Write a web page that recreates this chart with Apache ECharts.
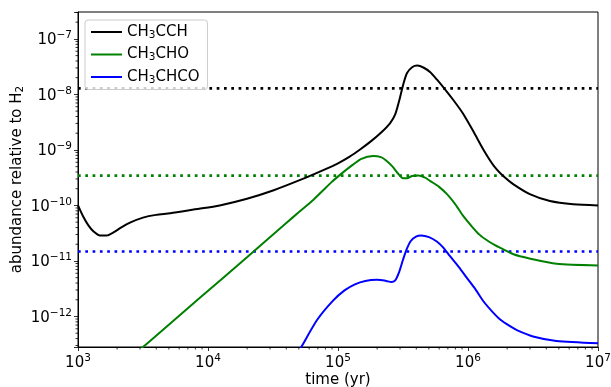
<!DOCTYPE html>
<html>
<head>
<meta charset="utf-8">
<script src="https://cdn.jsdelivr.net/npm/echarts@6/dist/echarts.min.js"></script>
<style>
  html, body { margin: 0; padding: 0; background: #fff; }
  #chart { width: 611px; height: 387px; }
</style>
</head>
<body>
<div id="chart"></div>
<script>
// values (time in yr, abundance relative to H2)
var timeCCH = [1000, 1096, 1202, 1318, 1479, 1660, 1862, 2138, 2512, 3162, 3981, 5129, 7943, 12300, 19950, 31620, 50120, 79430, 100000, 123000, 147900, 177800, 213800, 251200, 275400, 295100, 316200, 338800, 371500, 407400, 457100, 512900, 575400, 660700, 776200, 912000, 1096000, 1318000, 1585000, 1905000, 2239000, 3020000, 4266000, 6457000, 10000000];
var abundCCH = [1.0e-10, 6.31e-11, 4.37e-11, 3.39e-11, 2.88e-11, 2.88e-11, 3.24e-11, 3.98e-11, 4.90e-11, 6.03e-11, 6.76e-11, 7.24e-11, 8.51e-11, 1.0e-10, 1.32e-10, 1.86e-10, 2.82e-10, 4.47e-10, 5.75e-10, 7.59e-10, 1.02e-9, 1.41e-9, 2.04e-9, 3.02e-9, 4.37e-9, 7.59e-9, 1.45e-8, 2.40e-8, 3.09e-8, 3.31e-8, 3.02e-8, 2.51e-8, 1.86e-8, 1.26e-8, 7.76e-9, 4.57e-9, 2.19e-9, 1.0e-9, 5.13e-10, 3.24e-10, 2.40e-10, 1.58e-10, 1.20e-10, 1.05e-10, 1.0e-10];

var timeCHO = [2512, 3548, 8710, 19950, 39810, 50120, 63100, 75860, 89130, 104700, 123000, 151400, 186200, 213800, 234400, 263000, 288400, 316200, 338800, 371500, 416900, 467700, 512900, 602600, 691800, 794300, 912000, 1072000, 1230000, 1445000, 1660000, 2239000, 3020000, 4786000, 10000000];
var abundCHO = [1.78e-13, 3.55e-13, 2.19e-12, 1.17e-11, 4.79e-11, 7.59e-11, 1.20e-10, 1.82e-10, 2.63e-10, 3.63e-10, 4.90e-10, 6.92e-10, 7.76e-10, 7.41e-10, 6.46e-10, 5.01e-10, 3.80e-10, 3.09e-10, 3.09e-10, 3.39e-10, 3.47e-10, 3.16e-10, 2.75e-10, 2.14e-10, 1.58e-10, 1.07e-10, 6.61e-11, 4.17e-11, 2.95e-11, 2.24e-11, 1.86e-11, 1.32e-11, 1.10e-11, 8.91e-12, 8.32e-12];

var timeCHCO = [44670, 52480, 69180, 91200, 112200, 134900, 162200, 199500, 234400, 257000, 275400, 295100, 316200, 338800, 363100, 398100, 436500, 501200, 575400, 645700, 724400, 851100, 977200, 1148000, 1318000, 1549000, 1778000, 2089000, 2399000, 3162000, 4786000, 10000000];
var abundCHCO = [1.51e-13, 2.88e-13, 8.71e-13, 1.91e-12, 2.95e-12, 3.80e-12, 4.37e-12, 4.57e-12, 4.37e-12, 4.17e-12, 4.47e-12, 6.31e-12, 1.05e-11, 1.66e-11, 2.29e-11, 2.75e-11, 2.88e-11, 2.69e-11, 2.24e-11, 1.74e-11, 1.23e-11, 7.76e-12, 5.01e-12, 3.02e-12, 1.86e-12, 1.20e-12, 8.71e-13, 6.76e-13, 5.62e-13, 4.37e-13, 3.63e-13, 3.31e-13];

var seriesNames = ['CH3CCH', 'CH3CHO', 'CH3CHCO'];
var seriesColors = ['#000000', '#008000', '#0000ff'];
var refLevels = [1.28e-8, 3.45e-10, 1.48e-11];

var xMin = 1e3, xMax = 1e7;
var yMin = 2.82e-13, yMax = 3.05e-7;
var minorMantissas = [2, 3, 4, 5, 6, 7, 8, 9];
var xDecades = [1e3, 1e4, 1e5, 1e6];
var yDecades = [1e-13, 1e-12, 1e-11, 1e-10, 1e-9, 1e-8, 1e-7];

var font = 'DejaVu Sans';

function pairs(xs, ys) {
  return xs.map(function (x, i) { return [x, ys[i]]; });
}

function minorTicks(decades, lo, hi) {
  var out = [];
  decades.forEach(function (d) {
    minorMantissas.forEach(function (m) {
      var v = m * d;
      if (v > lo && v < hi) out.push(v);
    });
  });
  return out;
}

function powLabel(v) {
  var l = Math.log10(v);
  var e = Math.round(l);
  if (Math.abs(l - e) > 1e-6) return '';
  return '{b|10}{sup|' + (e < 0 ? '\u2212' + (-e) : e) + '}';
}

var labelRich = {
  b: { fontSize: 15, fontFamily: font, color: '#000', verticalAlign: 'bottom' },
  sup: { fontSize: 10.5, fontFamily: font, color: '#000', verticalAlign: 'bottom', padding: [0, 0, 7, 0] }
};

var dom = document.getElementById('chart');
var myChart = echarts.init(dom, null, { renderer: 'canvas' });

var curves = [pairs(timeCCH, abundCCH), pairs(timeCHO, abundCHO), pairs(timeCHCO, abundCHCO)];

var series = [];
curves.forEach(function (d, i) {
  series.push({
    name: seriesNames[i],
    type: 'line',
    data: d,
    smooth: 0.25,
    symbol: 'none',
    clip: true,
    color: seriesColors[i],
    lineStyle: { width: 2, color: seriesColors[i] },
    z: 3
  });
});
refLevels.forEach(function (v, i) {
  series.push({
    name: seriesNames[i] + ' obs',
    type: 'line',
    data: [[xMin, v], [xMax, v]],
    symbol: 'none',
    lineStyle: { width: 2.7, color: seriesColors[i], type: [2.7, 4.6] },
    z: 2
  });
});
// minor ticks at 2..9 x 10^n, like the reference's log axes
series.push({
  type: 'custom',
  clip: false,
  silent: true,
  data: minorTicks(xDecades, xMin, xMax).map(function (v) { return [v, yMin]; }),
  renderItem: function (params, api) {
    var p = api.coord([api.value(0), yMin]);
    return { type: 'line', shape: { x1: p[0], y1: p[1], x2: p[0], y2: p[1] + 2.5 }, style: { stroke: '#000', lineWidth: 0.8 } };
  }
});
series.push({
  type: 'custom',
  clip: false,
  silent: true,
  data: minorTicks(yDecades, yMin, yMax).map(function (v) { return [xMin, v]; }),
  renderItem: function (params, api) {
    var p = api.coord([xMin, api.value(1)]);
    return { type: 'line', shape: { x1: p[0] - 2.5, y1: p[1], x2: p[0], y2: p[1] }, style: { stroke: '#000', lineWidth: 0.8 } };
  }
});

var option = {
  animation: false,
  backgroundColor: '#fff',
  grid: {
    left: 78, right: 13, top: 12, bottom: 40,
    containLabel: false,
    outerBoundsMode: 'none',
    show: true, borderColor: '#000', borderWidth: 1
  },
  legend: {
    data: seriesNames,
    orient: 'vertical',
    left: 85, top: 20,
    padding: [4, 8, 4, 6],
    itemGap: 6,
    itemWidth: 31, itemHeight: 2,
    icon: 'rect',
    borderColor: '#cccccc', borderWidth: 1, borderRadius: 3,
    backgroundColor: 'rgba(255,255,255,0.8)',
    formatter: function (name) { return name.replace('3', '{sub|3}'); },
    textStyle: {
      fontSize: 15, fontFamily: font, color: '#000', lineHeight: 16,
      rich: {
        sub: { fontSize: 10.5, fontFamily: font, color: '#000', padding: [6, 0, 0, 0] }
      }
    }
  },
  xAxis: {
    type: 'log',
    logBase: 10,
    min: xMin, max: xMax,
    name: 'time (yr)',
    nameLocation: 'middle',
    nameGap: 26,
    nameMoveOverlap: false,
    nameTextStyle: { fontSize: 15, fontFamily: font, color: '#000' },
    axisLine: { show: true, lineStyle: { color: '#000', width: 1 } },
    axisTick: { show: true, length: 4, lineStyle: { color: '#000', width: 0.8 } },
    axisLabel: { margin: 6, formatter: powLabel, rich: labelRich },
    splitLine: { show: false }
  },
  yAxis: {
    type: 'log',
    logBase: 10,
    min: yMin, max: yMax,
    name: 'abundance relative to H{sub|2}',
    nameLocation: 'middle',
    nameGap: 52,
    nameMoveOverlap: false,
    nameTextStyle: {
      fontSize: 15, fontFamily: font, color: '#000',
      rich: { sub: { fontSize: 10.5, fontFamily: font, color: '#000', padding: [6, 0, 0, 0] } }
    },
    axisLine: { show: true, lineStyle: { color: '#000', width: 1 } },
    axisTick: { show: true, length: 4, lineStyle: { color: '#000', width: 0.8 } },
    axisLabel: { margin: 6, formatter: powLabel, rich: labelRich },
    splitLine: { show: false }
  },
  series: series
};

myChart.setOption(option);
window.addEventListener('resize', myChart.resize);
</script>
</body>
</html>
